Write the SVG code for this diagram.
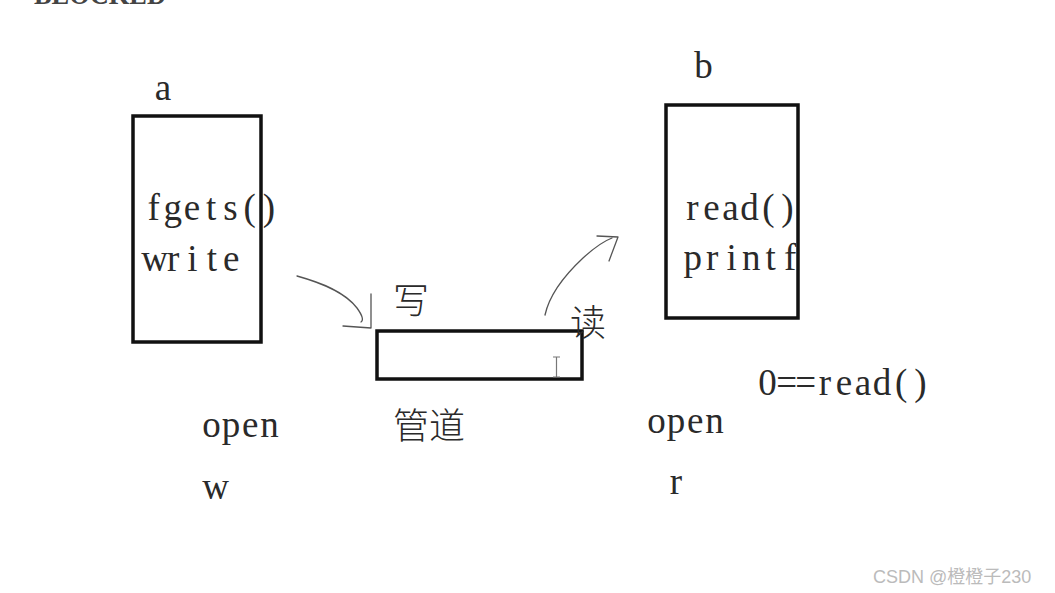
<svg xmlns="http://www.w3.org/2000/svg" width="1055" height="593" viewBox="0 0 1055 593">
<style>
.t{font-family:"Liberation Serif","Noto Sans CJK SC",serif;fill:#2a2a2a;font-size:37px;text-anchor:middle}
.c{font-family:"Noto Sans CJK SC","Liberation Serif",serif;fill:#2a2a2a;font-size:36px;font-weight:300}
.box{fill:none;stroke:#111;stroke-width:3.5}
.hand{fill:none;stroke:#555;stroke-width:1.3;stroke-linecap:round;stroke-linejoin:round}
</style>
<rect width="1055" height="593" fill="#fff"/>
<text x="34" y="4" font-family="Liberation Serif,serif" fill="#444" font-weight="bold" font-size="30" textLength="132" lengthAdjust="spacingAndGlyphs">BLOCKED</text>
<g id="node-a">
<text class="t" x="163" y="100">a</text>
<rect class="box" x="133" y="116" width="128" height="226"/>
<text class="t" x="153.6 172.8 192 211.2 230.4 249.6 268.8" y="220">fgets()</text>
<text class="t" x="154.5 173.1 192.5 211.9 231.3" y="271">write</text>
<text class="t" x="211.6 230.9 250.1 269.4" y="437">open</text>
<text class="t" x="215.5" y="499">w</text>
</g>
<g id="node-b">
<text class="t" x="703.5" y="78">b</text>
<rect class="box" x="666" y="105" width="132" height="213"/>
<text class="t" x="692.5 711.5 730.5 749.5 768.5 787.5" y="220">read()</text>
<text class="t" x="692.7 712.2 731.7 751.2 770.7 790.2" y="270">printf</text>
<text class="t" x="656.6 675.9 695.1 714.4" y="433">open</text>
<text class="t" x="676" y="494">r</text>
<text class="t" x="767.5 786.6 805.7 824.8 843.9 863 882.1 901.2 920.3" y="395">0==read()</text>
</g>
<g id="node-pipe">
<rect class="box" x="377" y="331" width="205" height="48"/>
<text class="c" x="393" y="314">写</text>
<text class="c" x="570" y="336">读</text>
<text class="c" x="393" y="439" font-size="38">管道</text>
<path d="M553 357h7M556.5 357v20M553 377h7" stroke="#777" stroke-width="1.2" fill="none"/>
</g>
<g id="connectors">
<path class="hand" d="M297 276 C322 283 345 292 357 308 C362 315 364 320 361 322"/>
<path class="hand" d="M343 326 L371 328 L371 294"/>
<path class="hand" d="M545 315 C550 292 568 272 583 258 C594 248 604 241 612 238"/>
<path class="hand" d="M597 236 L618 237 L609 261"/>
</g>
<text x="873" y="583" font-family="Liberation Sans,'Noto Sans CJK SC',sans-serif" font-size="18" fill="#bbb">CSDN @橙橙子230</text>
</svg>
